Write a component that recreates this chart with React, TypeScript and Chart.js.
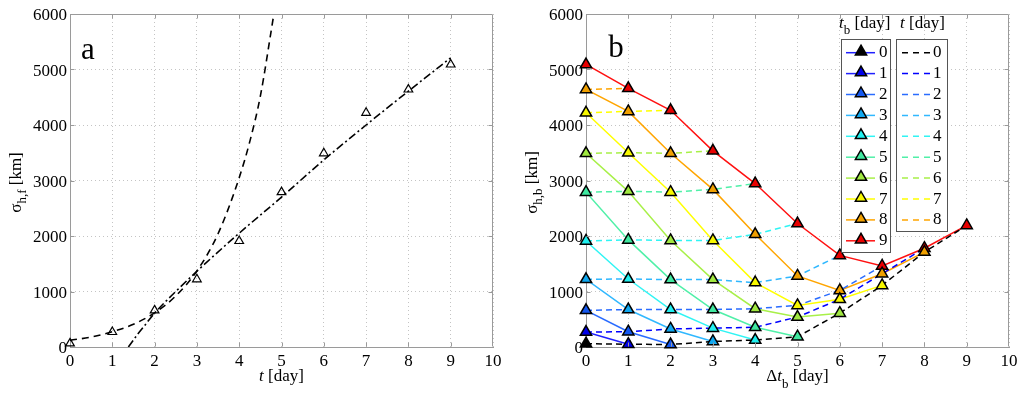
import React, { useEffect, useRef } from 'react';
import { Chart, registerables } from 'chart.js';

Chart.register(...registerables);

const FONT = "'Liberation Serif', 'DejaVu Serif', serif";

// ---------- Panel a data ----------
const tDays = [0, 1, 2, 3, 4, 5, 6, 7, 8, 9];
const sigmaF = [65, 270, 660, 1220, 1910, 2790, 3490, 4220, 4640, 5090];
// dashed curve
const curveDashT = [0, 0.5, 1, 1.5, 2, 2.5, 3, 3.5, 4, 4.25, 4.5, 4.82];
const curveDashY = [120, 180, 275, 410, 615, 920, 1370, 2040, 3050, 3700, 4520, 6000];
// dash-dot curve
const curveDotT = [1.38, 1.6, 1.8, 2, 2.5, 3, 4, 5, 6, 7, 8, 9];
const curveDotY = [0, 230, 420, 610, 1000, 1365, 2050, 2700, 3370, 4000, 4610, 5210];

// ---------- Panel b data: sigma_h,b for each t (row), index = delta t_b ----------
const sigmaB_t0 = [60, 50, 45, 100, 125, 185, 610, 1110, 1710, 2190];
const sigmaB_t1 = [270, 275, 325, 340, 355, 540, 860, 1320, 1780];
const sigmaB_t2 = [660, 675, 675, 675, 690, 750, 1020, 1460];
const sigmaB_t3 = [1220, 1225, 1215, 1215, 1160, 1280, 1650];
const sigmaB_t4 = [1910, 1930, 1920, 1920, 2030, 2225];
const sigmaB_t5 = [2790, 2805, 2790, 2840, 2945];
const sigmaB_t6 = [3490, 3500, 3490, 3535];
const sigmaB_t7 = [4220, 4245, 4265];
const sigmaB_t8 = [4640, 4660];
const sigmaB_t9 = [5090];
const sigmaRows = [sigmaB_t0, sigmaB_t1, sigmaB_t2, sigmaB_t3, sigmaB_t4, sigmaB_t5, sigmaB_t6, sigmaB_t7, sigmaB_t8, sigmaB_t9];

const tbLabels = ['0', '1', '2', '3', '4', '5', '6', '7', '8', '9'];
const tLabels = ['0', '1', '2', '3', '4', '5', '6', '7', '8'];
const tbLineColors = ['#2020ff', '#2020ff', '#2a6cff', '#30b8ff', '#30f4f4', '#50f0a8', '#a8f048', '#ffff00', '#ffa500', '#ff1010'];
const tbMarkerColors = ['#000000', '#0000e8', '#1458f0', '#10a8f0', '#20f0f0', '#40e8a0', '#a0e840', '#f8f800', '#f0a000', '#e80000'];
const tLineColors = ['#000000', '#0000ff', '#2a6cff', '#30b8ff', '#30f4f4', '#50f0a8', '#a8f048', '#ffff00', '#ffa500'];

const xTickValues = [0, 1, 2, 3, 4, 5, 6, 7, 8, 9, 10];
const yTickValues = [0, 1000, 2000, 3000, 4000, 5000, 6000];
const xTickMin = 0, xTickMax = 10, xStep = 1;
const yTickMin = 0, yTickMax = 6000, yStep = 1000;

type Part = { text: string; italic?: boolean; sub?: boolean };

function fontOf(p: Part, size: number, subSize: number) {
  return `${p.italic ? 'italic ' : ''}${p.sub ? subSize : size}px ${FONT}`;
}

function drawRich(ctx: CanvasRenderingContext2D, parts: Part[], x: number, y: number, size: number, subSize: number, subShift: number, align: 'center' | 'left' | 'right') {
  let total = 0;
  for (const p of parts) {
    ctx.font = fontOf(p, size, subSize);
    total += ctx.measureText(p.text).width;
  }
  let cx = align === 'center' ? x - total / 2 : align === 'right' ? x - total : x;
  ctx.textAlign = 'left';
  ctx.textBaseline = 'alphabetic';
  ctx.fillStyle = '#000';
  for (const p of parts) {
    ctx.font = fontOf(p, size, subSize);
    ctx.fillText(p.text, cx, y + (p.sub ? subShift : 0));
    cx += ctx.measureText(p.text).width;
  }
}

function triangle(ctx: CanvasRenderingContext2D, x: number, y: number, r: number, fill: string) {
  ctx.beginPath();
  ctx.moveTo(x, y - r);
  ctx.lineTo(x + 0.866 * r, y + 0.5 * r);
  ctx.lineTo(x - 0.866 * r, y + 0.5 * r);
  ctx.closePath();
  ctx.fillStyle = fill;
  ctx.fill();
  ctx.lineWidth = 1.5;
  ctx.strokeStyle = '#000';
  ctx.stroke();
}

function frameAndTicks(chart: any) {
  const { ctx, chartArea: ca, scales } = chart;
  ctx.save();
  ctx.strokeStyle = '#9a9a9a';
  ctx.lineWidth = 1;
  ctx.setLineDash([]);
  const L = Math.round(ca.left) + 0.5, R = Math.round(ca.right) - 0.5;
  const T = Math.round(ca.top) + 0.5, B = Math.round(ca.bottom) - 0.5;
  ctx.beginPath();
  ctx.moveTo(L, T); ctx.lineTo(R, T); ctx.lineTo(R, B);
  ctx.stroke();
  ctx.beginPath();
  for (let v = xTickMin + xStep; v < xTickMax; v += xStep) {
    const px = Math.round(scales.x.getPixelForValue(v)) + 0.5;
    ctx.moveTo(px, B); ctx.lineTo(px, B - 4);
    ctx.moveTo(px, T); ctx.lineTo(px, T + 4);
  }
  for (let v = yTickMin + yStep; v < yTickMax; v += yStep) {
    const py = Math.round(scales.y.getPixelForValue(v)) + 0.5;
    ctx.moveTo(L, py); ctx.lineTo(L + 4, py);
    ctx.moveTo(R, py); ctx.lineTo(R - 4, py);
  }
  ctx.stroke();

  // tick labels
  ctx.fillStyle = '#000';
  ctx.font = `17px ${FONT}`;
  ctx.textAlign = 'center';
  ctx.textBaseline = 'alphabetic';
  xTickValues.forEach((v) => {
    ctx.fillText(String(v), scales.x.getPixelForValue(v), 366);
  });
  ctx.textAlign = 'right';
  yTickValues.forEach((v) => {
    ctx.fillText(String(v), ca.left - 3, scales.y.getPixelForValue(v) + 6);
  });
  ctx.restore();
}

function yTitle(chart: any, parts: Part[]) {
  const { ctx, chartArea: ca } = chart;
  ctx.save();
  ctx.translate(ca.left - 49, (ca.top + ca.bottom) / 2 + 2);
  ctx.rotate(-Math.PI / 2);
  drawRich(ctx, parts, 0, 0, 17, 13, 5, 'center');
  ctx.restore();
}

function baseOptions(padRight: number, yWidth: number) {
  return {
    animation: false,
    responsive: false,
    events: [],
    layout: { padding: { top: 14, right: padRight, left: 0, bottom: 0 } },
    plugins: { legend: { display: false }, tooltip: { enabled: false } },
    scales: {
      x: {
        type: 'linear',
        min: xTickMin,
        max: xTickMax,
        afterFit: (s: any) => { s.height = 49; },
        ticks: { stepSize: xStep, display: false, autoSkip: false },
        grid: { color: '#c4c4c4', drawTicks: false, lineWidth: 1 },
        border: { color: '#9a9a9a', width: 1, dash: [1, 3] },
      },
      y: {
        type: 'linear',
        min: yTickMin,
        max: yTickMax,
        afterFit: (s: any) => { s.width = yWidth; },
        ticks: { stepSize: yStep, display: false },
        grid: { color: '#c4c4c4', drawTicks: false, lineWidth: 1 },
        border: { color: '#9a9a9a', width: 1, dash: [1, 3] },
      },
    },
  };
}

const panelAPlugin = {
  id: 'panelA',
  afterDraw(chart: any) {
    const { ctx, chartArea: ca } = chart;
    frameAndTicks(chart);
    ctx.save();
    drawRich(ctx, [{ text: 't', italic: true }, { text: ' [day]' }], (ca.left + ca.right) / 2, 381, 17, 13, 6, 'center');
    yTitle(chart, [{ text: 'σ' }, { text: 'h,f', sub: true }, { text: ' [km]' }]);
    drawRich(ctx, [{ text: 'a' }], ca.left + 18, 59, 31, 20, 0, 'center');
    ctx.restore();
  },
};

const panelBPlugin = {
  id: 'panelB',
  afterDraw(chart: any) {
    const { ctx, chartArea: ca } = chart;
    frameAndTicks(chart);
    ctx.save();
    drawRich(ctx, [{ text: 'Δ' }, { text: 't', italic: true }, { text: 'b', sub: true }, { text: ' [day]' }], (ca.left + ca.right) / 2, 381, 17, 13, 7, 'center');
    yTitle(chart, [{ text: 'σ' }, { text: 'h,b', sub: true }, { text: ' [km]' }]);
    drawRich(ctx, [{ text: 'b' }], ca.left + 30, 57, 31, 20, 0, 'center');

    // legend boxes
    ctx.lineWidth = 1;
    ctx.strokeStyle = '#555';
    ctx.fillStyle = '#fff';
    ctx.setLineDash([]);
    ctx.fillRect(329.5, 39.5, 49, 213);
    ctx.strokeRect(329.5, 39.5, 49, 213);
    ctx.fillRect(384.5, 39.5, 51, 192);
    ctx.strokeRect(384.5, 39.5, 51, 192);
    drawRich(ctx, [{ text: 't', italic: true }, { text: 'b', sub: true }, { text: ' [day]' }], 327, 28, 17, 13, 6, 'left');
    drawRich(ctx, [{ text: 't', italic: true }, { text: ' [day]' }], 388, 28, 17, 13, 6, 'left');

    const rowTop = 51.7, rowH = 20.9;
    tbLabels.forEach((lab, i) => {
      const y = rowTop + rowH * i;
      ctx.setLineDash([]);
      ctx.strokeStyle = tbLineColors[i];
      ctx.lineWidth = 1.5;
      ctx.beginPath();
      ctx.moveTo(334, y + 1); ctx.lineTo(363, y + 1);
      ctx.stroke();
      triangle(ctx, 349, y, 6.5, tbMarkerColors[i]);
      drawRich(ctx, [{ text: lab }], 367, y + 5.5, 17, 13, 0, 'left');
    });
    tLabels.forEach((lab, i) => {
      const y = rowTop + rowH * i;
      ctx.setLineDash([6, 5]);
      ctx.strokeStyle = tLineColors[i];
      ctx.lineWidth = 1.5;
      ctx.beginPath();
      ctx.moveTo(390, y + 1); ctx.lineTo(419, y + 1);
      ctx.stroke();
      ctx.setLineDash([]);
      drawRich(ctx, [{ text: lab }], 421, y + 5.5, 17, 13, 0, 'left');
    });
    ctx.restore();
  },
};

function PanelA() {
  const ref = useRef<HTMLCanvasElement>(null);
  useEffect(() => {
    const chart = new Chart(ref.current as HTMLCanvasElement, {
      type: 'line',
      data: {
        datasets: [
          {
            data: sigmaF.map((y, i) => ({ x: tDays[i], y })),
            showLine: false,
            pointStyle: 'triangle',
            pointRadius: 5,
            pointBorderWidth: 1.2,
            pointBorderColor: '#000',
            pointBackgroundColor: 'rgba(0,0,0,0)',
            clip: false,
            order: 0,
          },
          {
            data: curveDashY.map((y, i) => ({ x: curveDashT[i], y })),
            borderColor: '#000',
            borderWidth: 1.6,
            borderDash: [7, 5],
            pointRadius: 0,
            cubicInterpolationMode: 'monotone',
            order: 1,
          },
          {
            data: curveDotY.map((y, i) => ({ x: curveDotT[i], y })),
            borderColor: '#000',
            borderWidth: 1.6,
            borderDash: [8, 3, 2, 3],
            pointRadius: 0,
            cubicInterpolationMode: 'monotone',
            order: 2,
          },
        ],
      },
      options: baseOptions(19, 70) as any,
      plugins: [panelAPlugin],
    } as any);
    return () => chart.destroy();
  }, []);
  return <canvas ref={ref} width={512} height={396} style={{ position: 'absolute', left: 0, top: 0 }} />;
}

function PanelB() {
  const ref = useRef<HTMLCanvasElement>(null);
  useEffect(() => {
    const datasets: any[] = [];
    // markers coloured by t_b (on top)
    tbLabels.forEach((_, tb) => {
      const pts = [] as { x: number; y: number }[];
      for (let k = 0; k <= tb; k++) pts.push({ x: k, y: sigmaRows[tb - k][k] });
      datasets.push({
        data: pts,
        showLine: false,
        pointStyle: 'triangle',
        pointRadius: 6.5,
        pointBorderWidth: 1.5,
        pointBorderColor: '#000',
        pointBackgroundColor: tbMarkerColors[tb],
        clip: false,
        order: 0,
      });
    });
    // dashed lines for constant t
    tLabels.forEach((_, t) => {
      const row = sigmaRows[t];
      datasets.push({
        data: row.map((y, k) => ({ x: k, y })),
        borderColor: tLineColors[t],
        borderWidth: 1.5,
        borderDash: [6, 4],
        pointRadius: 0,
        order: 1,
      });
    });
    // solid lines for constant t_b
    tbLabels.forEach((_, tb) => {
      if (tb === 0) return;
      const pts = [] as { x: number; y: number }[];
      for (let k = 0; k <= tb; k++) pts.push({ x: k, y: sigmaRows[tb - k][k] });
      datasets.push({
        data: pts,
        borderColor: tbLineColors[tb],
        borderWidth: 1.5,
        pointRadius: 0,
        order: 2,
      });
    });
    const chart = new Chart(ref.current as HTMLCanvasElement, {
      type: 'line',
      data: { datasets },
      options: baseOptions(15, 74) as any,
      plugins: [panelBPlugin],
    } as any);
    return () => chart.destroy();
  }, []);
  return <canvas ref={ref} width={512} height={396} style={{ position: 'absolute', left: 512, top: 0 }} />;
}

export default function App() {
  return (
    <div style={{ position: 'fixed', left: 0, top: 0, width: 1024, height: 396, background: '#fff', overflow: 'hidden' }}>
      <PanelA />
      <PanelB />
    </div>
  );
}
